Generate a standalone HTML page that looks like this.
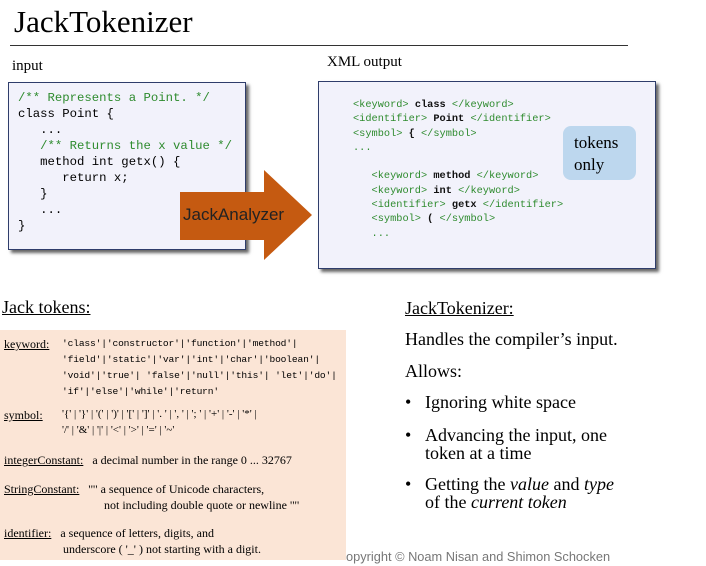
<!DOCTYPE html>
<html><head><meta charset="utf-8"><style>
body{margin:0;width:706px;height:566px;background:#fff;position:relative;overflow:hidden;font-family:"Liberation Serif",serif;color:#000}
.a{position:absolute;white-space:nowrap}
.m{font-family:"Liberation Mono",monospace}
.g{color:#2e8b2e}
.code{font-size:12.3px;line-height:16px}
.x{font-size:10.3px;line-height:14.3px;font-weight:normal}
.x .t{color:#2e8b2e}
.x b{color:#111}
.pk{font-size:12px}
u{text-decoration:underline}
</style></head><body>
<div class="a" style="left:14px;top:4px;font-size:31px">JackTokenizer</div>
<div class="a" style="left:10px;top:45px;width:618px;height:1px;background:#333"></div>
<div class="a" style="left:12px;top:58px;font-size:15px">input</div>
<div class="a" style="left:327px;top:54px;font-size:15px">XML output</div>

<div class="a" style="left:8px;top:82px;width:236px;height:166px;background:#f2f2fb;border:1px solid #2f3d6b;box-shadow:3px 3px 3px #666"></div>
<div class="a m code" style="left:18px;top:90px">
<span class="g">/** Represents a Point. */</span><br>class Point {<br>&nbsp;&nbsp; ...<br>&nbsp;&nbsp; <span class="g">/** Returns the x value */</span><br>&nbsp;&nbsp; method int getx() {<br>&nbsp;&nbsp;&nbsp;&nbsp;&nbsp; return x;<br>&nbsp;&nbsp; }<br>&nbsp;&nbsp; ...<br>}</div>

<svg class="a" style="left:0;top:0" width="706" height="566"><polygon points="180,192 264,192 264,170 312,215 264,260 264,240 180,240" fill="#c55a11"/></svg>
<div class="a" style="left:183px;top:205px;font-family:'Liberation Sans',sans-serif;font-size:17px;color:#222">JackAnalyzer</div>

<div class="a" style="left:318px;top:81px;width:336px;height:186px;background:#f2f2fb;border:1px solid #2f3d6b;box-shadow:3px 3px 3px #666"></div>
<div class="a m x" style="left:353px;top:98px">
<span class="t">&lt;keyword&gt;</span> <b>class</b> <span class="t">&lt;/keyword&gt;</span><br>
<span class="t">&lt;identifier&gt;</span> <b>Point</b> <span class="t">&lt;/identifier&gt;</span><br>
<span class="t">&lt;symbol&gt;</span> <b>{</b> <span class="t">&lt;/symbol&gt;</span><br>
<span class="t">...</span><br><br>
&nbsp;&nbsp; <span class="t">&lt;keyword&gt;</span> <b>method</b> <span class="t">&lt;/keyword&gt;</span><br>
&nbsp;&nbsp; <span class="t">&lt;keyword&gt;</span> <b>int</b> <span class="t">&lt;/keyword&gt;</span><br>
&nbsp;&nbsp; <span class="t">&lt;identifier&gt;</span> <b>getx</b> <span class="t">&lt;/identifier&gt;</span><br>
&nbsp;&nbsp; <span class="t">&lt;symbol&gt;</span> <b>(</b> <span class="t">&lt;/symbol&gt;</span><br>
&nbsp;&nbsp; <span class="t">...</span></div>
<div class="a" style="left:563px;top:126px;width:73px;height:54px;background:#bdd7ee;border-radius:8px"></div>
<div class="a" style="left:574px;top:132px;font-size:17px;line-height:22px">tokens<br>only</div>

<div class="a" style="left:2px;top:297px;font-size:18px"><u>Jack tokens:</u></div>
<div class="a" style="left:0;top:330px;width:346px;height:230px;background:#fbe5d6"></div>
<div class="a pk" style="left:4px;top:336px;line-height:16px"><u>keyword:</u></div>
<div class="a m" style="left:62px;top:336px;line-height:16px;font-size:9.6px;letter-spacing:-0.15px">'class'|'constructor'|'function'|'method'|<br>'field'|'static'|'var'|'int'|'char'|'boolean'|<br>'void'|'true'| 'false'|'null'|'this'| 'let'|'do'|<br>'if'|'else'|'while'|'return'</div>
<div class="a pk" style="left:4px;top:408px"><u>symbol:</u></div>
<div class="a pk" style="left:62px;top:406px;line-height:16px;font-size:11px">'{' | '}' | '(' | ')' | '[' | ']' | '. ' | ', ' | '; ' | '+' | '-' | '*' |<br>'/' | '&amp;' | '|' | '&lt;' | '&gt;' | '=' | '~'</div>
<div class="a pk" style="left:4px;top:453px"><u>integerConstant:</u>&nbsp;&nbsp; a decimal number in the range 0 ... 32767</div>
<div class="a pk" style="left:4px;top:481px;line-height:16px"><u>StringConstant:</u>&nbsp;&nbsp; '"' a sequence of Unicode characters,<br><span style="padding-left:100px">not including double quote or newline '"'</span></div>
<div class="a pk" style="left:4px;top:525px;line-height:16px"><u>identifier:</u>&nbsp;&nbsp; a sequence of letters, digits, and<br><span style="padding-left:59px">underscore ( '_' ) not starting with a digit.</span></div>

<div class="a" style="left:405px;top:298px;font-size:18px"><u>JackTokenizer:</u></div>
<div class="a" style="left:405px;top:329px;font-size:18px">Handles the compiler’s input.</div>
<div class="a" style="left:405px;top:361px;font-size:18px">Allows:</div>
<div class="a" style="left:405px;top:393px;font-size:18px;line-height:18px">•</div>
<div class="a" style="left:425px;top:393px;font-size:18px;line-height:18px">Ignoring white space</div>
<div class="a" style="left:405px;top:426px;font-size:18px;line-height:18px">•</div>
<div class="a" style="left:425px;top:426px;font-size:18px;line-height:18px">Advancing the input, one<br>token at a time</div>
<div class="a" style="left:405px;top:475px;font-size:18px;line-height:18px">•</div>
<div class="a" style="left:425px;top:475px;font-size:18px;line-height:18px">Getting the <i>value</i> and <i>type</i><br>of the <i>current token</i></div>
<div class="a" style="left:346px;top:549px;font-family:'Liberation Sans',sans-serif;font-size:12.8px;color:#777">opyright © Noam Nisan and Shimon Schocken</div>
</body></html>
